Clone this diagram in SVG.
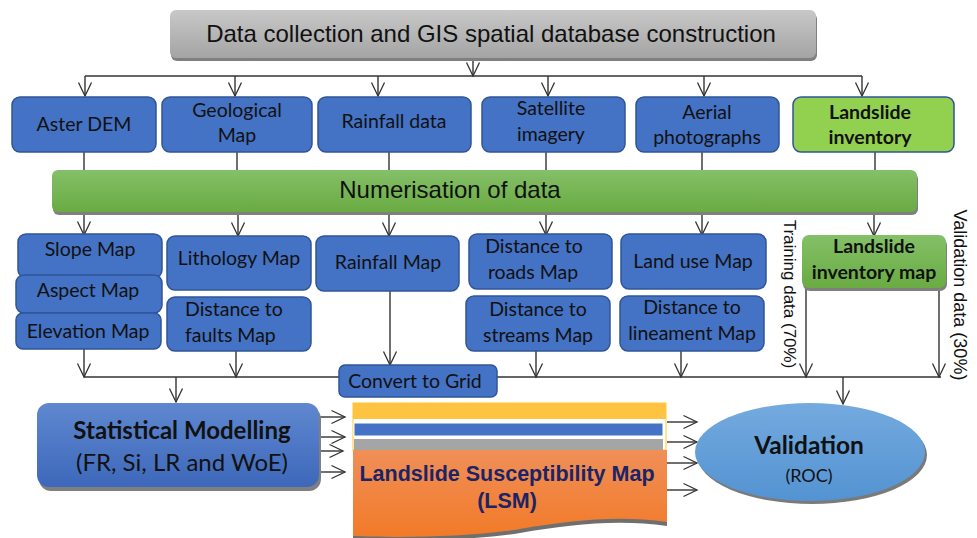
<svg xmlns="http://www.w3.org/2000/svg" width="977" height="538" viewBox="0 0 977 538">
  <defs>
    <marker id="ah" markerUnits="userSpaceOnUse" markerWidth="16" markerHeight="16" refX="14" refY="7" orient="auto" overflow="visible">
      <path d="M0.5,0.5 L14,7 L0.5,13.5" fill="none" stroke="#333" stroke-width="1.3"/>
    </marker>
    <linearGradient id="gGray" x1="0" y1="0" x2="0" y2="1">
      <stop offset="0" stop-color="#c8c8c8"/>
      <stop offset="1" stop-color="#a4a4a4"/>
    </linearGradient>
    <linearGradient id="gGreen" x1="0" y1="0" x2="0" y2="1">
      <stop offset="0" stop-color="#84c068"/>
      <stop offset="1" stop-color="#6aab42"/>
    </linearGradient>
    <linearGradient id="gBlue" x1="0" y1="0" x2="0" y2="1">
      <stop offset="0" stop-color="#5f88d0"/>
      <stop offset="1" stop-color="#3d68ba"/>
    </linearGradient>
    <linearGradient id="gSky" x1="0" y1="0" x2="0" y2="1">
      <stop offset="0" stop-color="#74aade"/>
      <stop offset="1" stop-color="#5393d2"/>
    </linearGradient>
    <linearGradient id="gOrange" x1="0" y1="0" x2="0" y2="1">
      <stop offset="0" stop-color="#f08f58"/>
      <stop offset="1" stop-color="#f27a28"/>
    </linearGradient>
  </defs>
  <style>
    .ln { stroke: #333; stroke-width: 1.4; fill: none; }
    .arr { marker-end: url(#ah); }
    .box { fill: #4472c4; stroke: #2f5597; stroke-width: 1.5; }
    .sh { fill: #7f7f7f; }
    .t { font-family: Lato, "Liberation Sans", sans-serif; font-size: 19.5px; fill: #111; text-anchor: middle; }
    .tl { text-anchor: start; }
    .b { font-weight: bold; }
    .ar { font-family: "Liberation Sans", Arial, sans-serif; fill: #111; text-anchor: middle; }
    .navy { fill: #1a2466; }
  </style>
  <rect width="977" height="538" fill="#ffffff"/>

  <!-- connectors -->
  <g id="connectors">
    <path class="ln arr" d="M473,58 V76"/>
    <path class="ln" d="M85,76 H862"/>
    <path class="ln arr" d="M85,76 V96"/>
    <path class="ln arr" d="M235,76 V96"/>
    <path class="ln arr" d="M378,76 V96"/>
    <path class="ln arr" d="M548,76 V96"/>
    <path class="ln arr" d="M704,76 V96"/>
    <path class="ln arr" d="M862,76 V96"/>

    <path class="ln" d="M84,152 V170 M237,152 V170 M389,152 V170 M546,152 V170 M702,152 V170 M875,152 V170"/>

    <path class="ln arr" d="M84,212 V235"/>
    <path class="ln arr" d="M238,212 V236"/>
    <path class="ln arr" d="M389,212 V236"/>
    <path class="ln arr" d="M546,212 V235"/>
    <path class="ln arr" d="M702,212 V235"/>
    <path class="ln arr" d="M874,212 V236"/>

    <path class="ln" d="M84,377 H941"/>
    <path class="ln arr" d="M84,349 V377"/>
    <path class="ln arr" d="M236,351 V377"/>
    <path class="ln arr" d="M390,291 V365"/>
    <path class="ln arr" d="M536,351 V377"/>
    <path class="ln arr" d="M681,351 V377"/>
    <path class="ln arr" d="M806,288 V377"/>
    <path class="ln arr" d="M939,288 V377"/>

    <path class="ln arr" d="M176,377 V402"/>
    <path class="ln arr" d="M843,377 V404"/>

    <path class="ln arr" d="M319,417 H345"/>
    <path class="ln arr" d="M319,437 H345"/>
    <path class="ln arr" d="M319,451 H343"/>
    <path class="ln arr" d="M319,472 H345"/>

    <path class="ln arr" d="M667,422 H697"/>
    <path class="ln arr" d="M667,442 H697"/>
    <path class="ln arr" d="M667,463 H697"/>
    <path class="ln arr" d="M667,490 H697"/>
  </g>

  <!-- header -->
  <g id="data-collection">
    <rect x="171" y="13" width="646" height="48" rx="6" class="sh"/>
    <rect x="170" y="10" width="646" height="48" rx="6" fill="url(#gGray)"/>
    <text x="491" y="42" class="ar" style="font-size:24px">Data collection and GIS spatial database construction</text>
  </g>

  <!-- source data -->
  <g id="aster-dem">
    <rect x="12" y="97" width="144" height="55" rx="8" class="box"/>
    <text x="84" y="131" class="t">Aster DEM</text>
  </g>
  <g id="geological-map">
    <rect x="162" y="97" width="150" height="55" rx="8" class="box"/>
    <text x="237" y="117" class="t">Geological</text>
    <text x="237" y="142" class="t">Map</text>
  </g>
  <g id="rainfall-data">
    <rect x="318" y="97" width="153" height="55" rx="8" class="box"/>
    <text x="394" y="128" class="t">Rainfall data</text>
  </g>
  <g id="satellite-imagery">
    <rect x="482" y="97" width="143" height="55" rx="8" class="box"/>
    <text x="551" y="115" class="t">Satellite</text>
    <text x="551" y="141" class="t">imagery</text>
  </g>
  <g id="aerial-photographs">
    <rect x="636" y="97" width="143" height="55" rx="8" class="box"/>
    <text x="707" y="119" class="t">Aerial</text>
    <text x="707" y="144" class="t">photographs</text>
  </g>
  <g id="landslide-inventory">
    <rect x="793" y="97" width="161" height="55" rx="8" fill="#92d050" stroke="#2f5597" stroke-width="1.5"/>
    <text x="870" y="119" class="t b">Landslide</text>
    <text x="870" y="144" class="t b">inventory</text>
  </g>

  <!-- numerisation -->
  <g id="numerisation">
    <rect x="53" y="173" width="865" height="42" rx="6" class="sh"/>
    <rect x="52" y="170" width="865" height="42" rx="6" fill="url(#gGreen)"/>
    <text x="450" y="198" class="ar" style="font-size:24px">Numerisation of data</text>
  </g>

  <!-- thematic maps -->
  <g id="slope-map">
    <rect x="18" y="234" width="144" height="44" rx="8" class="box"/>
    <text x="90" y="256" class="t">Slope Map</text>
  </g>
  <g id="aspect-map">
    <rect x="16" y="275" width="146" height="38" rx="8" class="box"/>
    <text x="88" y="297" class="t">Aspect Map</text>
  </g>
  <g id="elevation-map">
    <rect x="16" y="313" width="145" height="36" rx="7" class="box"/>
    <text x="88" y="338" class="t">Elevation Map</text>
  </g>
  <g id="lithology-map">
    <rect x="167" y="236" width="144" height="54" rx="8" class="box"/>
    <text x="239" y="265" class="t">Lithology Map</text>
  </g>
  <g id="distance-faults">
    <rect x="167" y="297" width="144" height="54" rx="8" class="box"/>
    <text x="185" y="316" class="t tl">Distance to</text>
    <text x="185" y="342" class="t tl">faults Map</text>
  </g>
  <g id="rainfall-map">
    <rect x="316" y="236" width="143" height="55" rx="8" class="box"/>
    <text x="388" y="269" class="t">Rainfall Map</text>
  </g>
  <g id="distance-roads">
    <rect x="469" y="234" width="143" height="55" rx="8" class="box"/>
    <text x="534" y="253" class="t">Distance to</text>
    <text x="533" y="279" class="t">roads Map</text>
  </g>
  <g id="distance-streams">
    <rect x="466" y="296" width="144" height="55" rx="8" class="box"/>
    <text x="538" y="316" class="t">Distance to</text>
    <text x="538" y="342" class="t">streams Map</text>
  </g>
  <g id="land-use-map">
    <rect x="621" y="234" width="145" height="55" rx="8" class="box"/>
    <text x="693" y="268" class="t">Land use Map</text>
  </g>
  <g id="distance-lineament">
    <rect x="620" y="296" width="144" height="55" rx="8" class="box"/>
    <text x="692" y="314" class="t">Distance to</text>
    <text x="692" y="340" class="t">lineament Map</text>
  </g>
  <g id="landslide-inventory-map">
    <rect x="803" y="238" width="144" height="53" rx="7" class="sh"/>
    <rect x="802" y="235" width="144" height="53" rx="7" fill="url(#gGreen)"/>
    <text x="874" y="253" class="t b">Landslide</text>
    <text x="874" y="279" class="t b">inventory map</text>
  </g>

  <!-- split labels -->
  <g id="training-label">
    <text transform="translate(784,294) rotate(90)" class="ar" style="font-size:17px">Training data (70%)</text>
  </g>
  <g id="validation-label">
    <text transform="translate(954,295) rotate(90)" class="ar" style="font-size:18px">Validation data (30%)</text>
  </g>

  <g id="convert-to-grid">
    <rect x="339" y="365" width="158" height="32" rx="6" class="box"/>
    <text x="415" y="388" class="t" style="font-size:19.5px">Convert to Grid</text>
  </g>

  <!-- modelling -->
  <g id="statistical-modelling">
    <rect x="39" y="407" width="282" height="84" rx="12" class="sh"/>
    <rect x="37" y="403" width="282" height="84" rx="12" fill="url(#gBlue)"/>
    <text x="182" y="439" class="t b" style="font-size:24px">Statistical Modelling</text>
    <text x="182" y="471" class="t" style="font-size:24px">(FR, Si, LR and WoE)</text>
  </g>

  <g id="lsm">
    <rect x="353" y="403" width="313" height="47" fill="#ffffff" stroke="#ffd24d" stroke-width="1.2"/>
    <rect x="353" y="403" width="313" height="16" fill="#ffc342"/>
    <rect x="354" y="423" width="309" height="13" fill="#4472c4" stroke="#ffffff" stroke-width="1"/>
    <rect x="354" y="439" width="309" height="12" fill="#a5a5a5"/>
    <path d="M353,454 H667 V526 C620,519 570,524 520,533 C470,541 400,541 353,540 Z" fill="#6f6f6f"/>
    <path d="M353,450 H667 V522 C620,515 570,520 520,529 C470,537 400,538 353,536 Z" fill="url(#gOrange)"/>
    <text x="507" y="481" class="ar b navy" style="font-size:21.5px">Landslide Susceptibility Map</text>
    <text x="507" y="508" class="ar b navy" style="font-size:21.5px">(LSM)</text>
  </g>

  <g id="validation">
    <ellipse cx="812" cy="455" rx="115" ry="49" fill="#7a7a7a"/>
    <ellipse cx="810" cy="452" rx="115" ry="49" fill="url(#gSky)"/>
    <text x="809" y="454" class="t b" style="font-size:24.5px">Validation</text>
    <text x="809" y="482" class="t" style="font-size:18px">(ROC)</text>
  </g>
</svg>
